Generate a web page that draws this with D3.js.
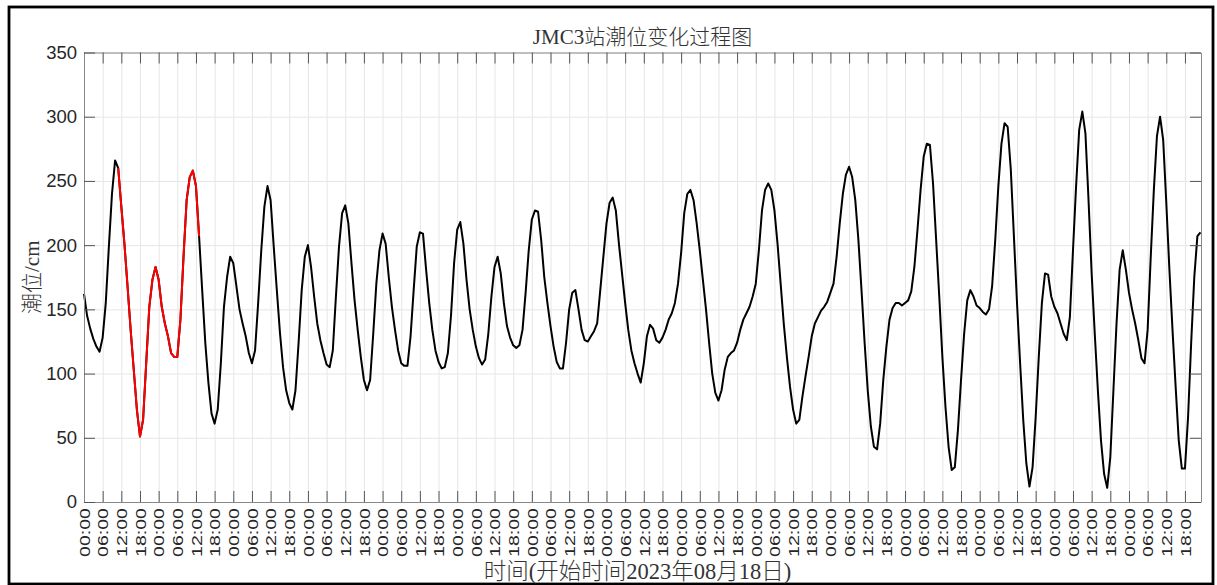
<!DOCTYPE html>
<html><head><meta charset="utf-8">
<script src="https://cdn.jsdelivr.net/npm/d3@7/dist/d3.min.js"></script>
<style>body{margin:0;background:#fff;}svg{display:block;}</style>
</head><body>
<svg id="chart" width="1217" height="585"></svg>
<script>
// ---- data ----
const chartTitle = "JMC3站潮位变化过程图";
const yAxisLabel = "潮位/cm";
const xAxisLabel = "时间(开始时间2023年08月18日)";
const startDate = [2023, 7, 18, 0]; // 2023-08-18 00:00, hourly samples
const tideValues = [
  162,145,135,127,121,117,128,155,199,240,266,260,230,201,168,134,103,72,51,64,
  108,152,173,183,173,152,139,129,116,113,113,142,191,235,253,258,246,207,165,124,
  93,69,61,72,108,152,175,191,186,168,150,139,129,116,108,118,155,196,230,246,
  235,199,165,132,105,87,77,72,87,124,165,191,200,183,160,139,126,116,107,105,
  118,160,199,225,231,217,186,157,134,113,95,87,95,131,170,196,209,201,175,152,
  134,118,108,106,106,129,165,199,210,209,181,155,134,118,109,104,105,116,145,186,
  212,218,201,173,150,134,121,112,107,111,131,160,183,191,178,155,137,128,122,120,
  122,134,163,196,220,227,226,204,175,155,137,121,109,104,104,124,150,163,165,150,
  134,126,125,129,133,139,165,191,217,233,237,227,201,178,155,134,118,108,100,93,
  108,129,138,135,126,124,128,134,142,147,155,170,194,225,240,243,235,217,196,173,
  150,124,100,85,79,87,103,113,116,118,124,134,142,147,152,160,170,196,227,243,
  248,243,227,201,170,139,113,90,72,61,64,82,98,113,129,139,144,149,152,156,
  163,170,191,217,240,255,261,253,235,204,165,124,87,59,43,41,61,95,121,142,
  151,155,155,153,155,157,164,183,212,243,269,279,278,248,204,160,113,74,43,25,
  27,56,95,131,157,165,160,153,151,148,146,150,168,204,246,279,295,292,259,207,
  155,108,64,30,12,27,66,113,155,178,177,160,152,147,139,131,126,144,196,246,
  290,304,287,235,178,131,87,48,22,11,35,87,139,181,196,181,163,150,139,126,
  112,108,134,191,243,285,300,282,233,181,134,90,48,26,26,66,124,175,207,210
];
const highlightRange = [11, 37]; // red segment (sample indices)
const yTicks = [0, 50, 100, 150, 200, 250, 300, 350];
const yDomain = [0, 350];
const xTickHours = 6;

// ---- layout ----
const plot = {left: 84, right: 1201, top: 52.5, bottom: 502};
const svg = d3.select("#chart");

const t0 = new Date(startDate[0], startDate[1], startDate[2], startDate[3]);
const data = tideValues.map((v, i) => ({t: d3.timeHour.offset(t0, i), v, i}));

const x = d3.scaleTime()
  .domain([data[0].t, data[data.length - 1].t])
  .range([plot.left, plot.right - 0.5]);
const y = d3.scaleLinear().domain(yDomain).range([plot.bottom, plot.top]);

const plotW = plot.right - plot.left, plotH = plot.bottom - plot.top;
const sansFont = "'Liberation Sans', Arial, 'Noto Sans CJK SC', sans-serif";
const serifFont = "'Liberation Serif', 'Times New Roman', 'Noto Sans CJK SC', serif";

// outer frame
svg.append("rect").attr("x", 9).attr("y", 7).attr("width", 1204).attr("height", 577)
  .attr("fill", "#fff").attr("stroke", "#000").attr("stroke-width", 2.8);

const xTickVals = d3.timeHour.every(xTickHours).range(data[0].t, d3.timeMinute.offset(data[data.length - 1].t, 1));

// grid
svg.append("g").attr("transform", `translate(0,${plot.bottom})`)
  .call(d3.axisBottom(x).tickValues(xTickVals).tickSize(-plotH).tickFormat(""))
  .call(g => g.select(".domain").remove())
  .call(g => g.selectAll("line").attr("stroke", "#e6e6e6").attr("stroke-width", 1));
svg.append("g").attr("transform", `translate(${plot.left},0)`)
  .call(d3.axisLeft(y).tickValues(yTicks).tickSize(-plotW).tickFormat(""))
  .call(g => g.select(".domain").remove())
  .call(g => g.selectAll("line").attr("stroke", "#e6e6e6").attr("stroke-width", 1));

// lines
const line = d3.line().x(d => x(d.t)).y(d => y(d.v));
svg.append("path").datum(data).attr("d", line)
  .attr("fill", "none").attr("stroke", "#000").attr("stroke-width", 2).attr("stroke-linejoin", "round");
svg.append("path").datum(data.slice(highlightRange[0], highlightRange[1] + 1)).attr("d", line)
  .attr("fill", "none").attr("stroke", "#ff0000").attr("stroke-width", 2).attr("stroke-linejoin", "round");

// axes (ticks inward)
const axisColor = "#888";
const tickLen = 11;
function styleAxis(g) {
  g.select(".domain").attr("stroke", axisColor).attr("stroke-width", 1);
  g.selectAll(".tick line").attr("stroke", "#555").attr("stroke-width", 1);
}
const xAxisG = svg.append("g").attr("transform", `translate(0,${plot.bottom})`)
  .call(d3.axisBottom(x).tickValues(xTickVals).tickSizeInner(-tickLen).tickSizeOuter(0)
    .tickPadding(6).tickFormat(d3.timeFormat("%H:%M")))
  .call(styleAxis);
xAxisG.selectAll(".tick text")
  .attr("transform", "rotate(-90)")
  .attr("x", -6).attr("y", 0).attr("dy", "0.36em")
  .attr("text-anchor", "end")
  .attr("font-family", sansFont).attr("font-size", 14.5).attr("fill", "#262626")
  .attr("textLength", 49).attr("lengthAdjust", "spacingAndGlyphs");

svg.append("g").attr("transform", `translate(0,${plot.top})`)
  .call(d3.axisTop(x).tickValues(xTickVals).tickSizeInner(-tickLen).tickSizeOuter(0).tickFormat(""))
  .call(styleAxis);

svg.append("g").attr("transform", `translate(${plot.left},0)`)
  .call(d3.axisLeft(y).tickValues(yTicks).tickSizeInner(-tickLen).tickSizeOuter(0).tickPadding(7))
  .call(styleAxis)
  .call(g => g.selectAll(".tick text").attr("font-family", sansFont).attr("font-size", 18.5).attr("fill", "#262626"));

svg.append("g").attr("transform", `translate(${plot.right},0)`)
  .call(d3.axisRight(y).tickValues(yTicks).tickSizeInner(-tickLen).tickSizeOuter(0).tickFormat(""))
  .call(styleAxis);

// title & labels
svg.append("text").attr("x", (plot.left + plot.right) / 2).attr("y", 44)
  .attr("text-anchor", "middle").attr("font-family", serifFont).attr("font-size", 21)
  .attr("font-weight", 300).attr("fill", "#333").text(chartTitle);
svg.append("text").attr("transform", `translate(39,${(plot.top + plot.bottom) / 2}) rotate(-90)`)
  .attr("text-anchor", "middle").attr("font-family", serifFont).attr("font-size", 21)
  .attr("font-weight", 300).attr("fill", "#333").text(yAxisLabel);
svg.append("text").attr("x", (plot.left + plot.right) / 2 - 5).attr("y", 579)
  .attr("text-anchor", "middle").attr("font-family", serifFont).attr("font-size", 22.5)
  .attr("font-weight", 300).attr("fill", "#333").text(xAxisLabel);
</script>
</body></html>
